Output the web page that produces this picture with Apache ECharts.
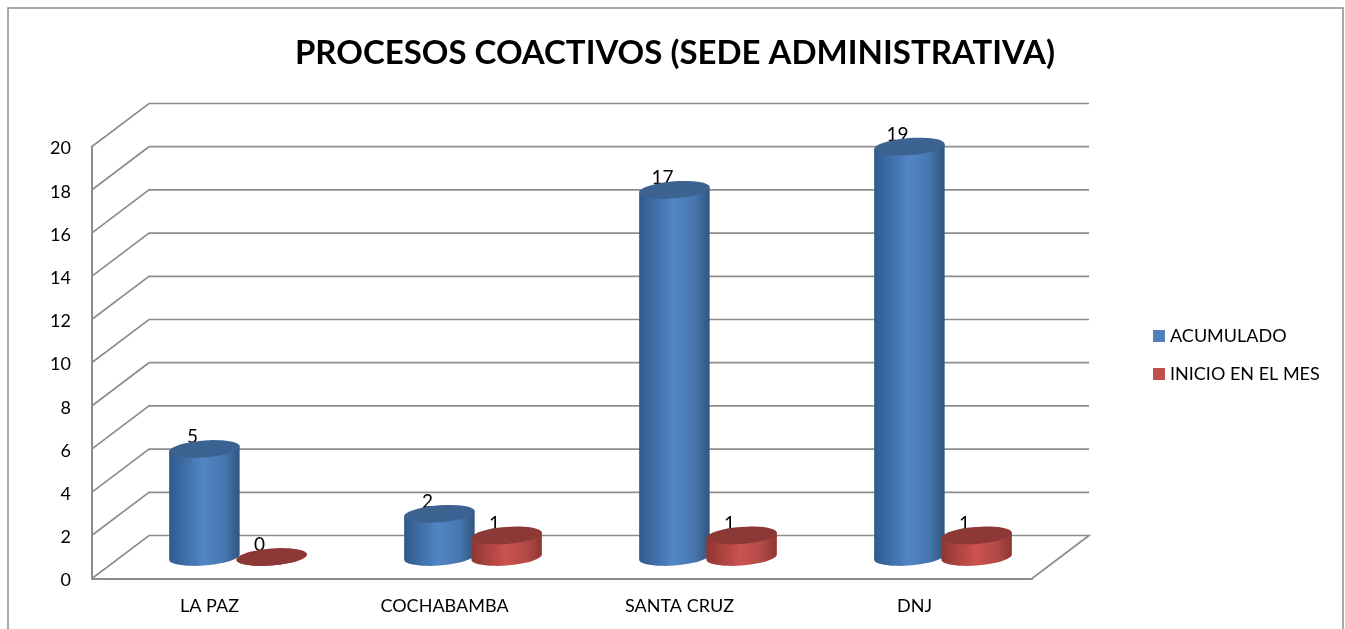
<!DOCTYPE html>
<html>
<head>
<meta charset="utf-8">
<title>Procesos coactivos</title>
<script src="https://cdn.jsdelivr.net/npm/echarts@6/dist/echarts.min.js"></script>
<style>
html, body { margin: 0; padding: 0; background: #fff; }
#main { width: 1345px; height: 629px; }
</style>
</head>
<body>
<div id="main"></div>
<script>
var categorias = ['LA PAZ', 'COCHABAMBA', 'SANTA CRUZ', 'DNJ'];
var acumulado = [5, 2, 17, 19];
var inicioEnElMes = [0, 1, 1, 1];
var marcasEje = [0, 2, 4, 6, 8, 10, 12, 14, 16, 18, 20];

// profundidad de la "caja" 3D en pixeles
var fondoX = 57, fondoY = -43;
var fontFam = 'Lato, "Noto Sans", sans-serif';

var myChart = echarts.init(document.getElementById('main'));

// paredes: cada marca del eje sube en diagonal y sigue por el fondo
function dibujarPared(params, api) {
    var v = api.value(1);
    var p = api.coord([0, v]);
    var sys = params.coordSys;
    var x0 = sys.x, x1 = sys.x + sys.width;
    var puntos = [[x0, p[1]], [x0 + fondoX, p[1] + fondoY], [x1 + fondoX, p[1] + fondoY]];
    if (v === 0) {
        puntos.push([x1, p[1]]);
    }
    return {
        type: 'polyline',
        shape: { points: puntos },
        style: { stroke: '#8e8e8e', lineWidth: 1.7, fill: null }
    };
}

function elipse(cx, cy, rx, ry, giro) {
    var pts = [];
    for (var i = 0; i < 48; i++) {
        var t = i / 48 * Math.PI * 2;
        pts.push([cx + rx * Math.cos(t), cy + ry * Math.sin(t) - giro * Math.cos(t)]);
    }
    return pts;
}

// cilindro: dos elipses y un cuerpo con degradado horizontal
function cilindro(desplaza, colores, tapa) {
    return function (params, api) {
        var base = api.coord([api.value(0), 0]);
        var tope = api.coord([api.value(0), api.value(1)]);
        var ancho = api.size([1, 0])[0];
        var cx = base[0] + fondoX / 2 + desplaza * ancho;
        var yBase = base[1] + fondoY / 2;
        var yTope = tope[1] + fondoY / 2;
        var rx = ancho * 0.15, ry = 8.5, giro = 2.6;

        var cuerpo = [];
        for (var i = 0; i <= 24; i++) {
            var t = i / 24 * Math.PI;
            cuerpo.push([cx + rx * Math.cos(t), yBase + ry * Math.sin(t) - giro * Math.cos(t)]);
        }
        cuerpo.push([cx - rx, yTope + giro]);
        cuerpo.push([cx + rx, yTope - giro]);

        return {
            type: 'group',
            children: [
                {
                    type: 'polygon',
                    shape: { points: cuerpo },
                    style: {
                        fill: new echarts.graphic.LinearGradient(0, 0, 1, 0, [
                            { offset: 0, color: colores[0] },
                            { offset: 0.48, color: colores[1] },
                            { offset: 0.78, color: colores[2] },
                            { offset: 1, color: colores[3] }
                        ])
                    }
                },
                {
                    type: 'text',
                    x: cx - 12,
                    y: yTope - 12,
                    style: {
                        text: String(api.value(1)),
                        fill: '#000',
                        font: '19px ' + fontFam,
                        align: 'center',
                        verticalAlign: 'middle'
                    }
                },
                {
                    type: 'polygon',
                    shape: { points: elipse(cx, yTope, rx, ry, giro) },
                    style: { fill: tapa }
                }
            ]
        };
    };
}

function pares(valores) {
    return valores.map(function (v, i) { return [i, v]; });
}

var option = {
    animation: false,
    backgroundColor: '#fff',
    title: {
        text: 'PROCESOS COACTIVOS (SEDE ADMINISTRATIVA)',
        left: 670,
        top: 32,
        textAlign: 'center',
        textStyle: { fontFamily: fontFam, fontSize: 33, fontWeight: 'bold', color: '#000' }
    },
    legend: {
        orient: 'vertical',
        left: 1153,
        top: 327,
        itemWidth: 12,
        itemHeight: 12,
        itemGap: 20,
        padding: 0,
        icon: 'rect',
        data: ['ACUMULADO', 'INICIO EN EL MES'],
        textStyle: { fontFamily: fontFam, fontSize: 18, color: '#000' }
    },
    graphic: [{
        type: 'polyline',
        shape: { points: [[8, 640], [8, 8], [1343, 8], [1343, 640]] },
        style: { stroke: '#8c8c8c', lineWidth: 1.5, fill: null },
        silent: true
    }],
    grid: { left: 92, top: 146.5, width: 940, height: 432 },
    xAxis: {
        type: 'category',
        data: categorias,
        axisLine: { show: true, lineStyle: { color: '#8c8c8c', width: 2 } },
        axisTick: { show: false },
        axisLabel: { margin: 19, color: '#000', fontFamily: fontFam, fontSize: 18 }
    },
    yAxis: {
        type: 'value',
        min: 0,
        max: 20,
        interval: 2,
        axisLine: { show: true, lineStyle: { color: '#8c8c8c', width: 2 } },
        axisTick: { show: false },
        splitLine: { show: false },
        axisLabel: {
            margin: 21,
            formatter: '{v|{value}}',
            rich: { v: { padding: [4, 0, 0, 0], color: '#000', fontFamily: fontFam, fontSize: 18 } }
        }
    },
    series: [
        {
            name: 'paredes',
            type: 'custom',
            z: 1,
            silent: true,
            clip: false,
            encode: { x: 0, y: 1 },
            data: marcasEje.map(function (m) { return [0, m]; }),
            renderItem: dibujarPared
        },
        {
            name: 'ACUMULADO',
            type: 'custom',
            z: 2,
            clip: false,
            itemStyle: { color: '#4f81bd' },
            encode: { x: 0, y: 1 },
            data: pares(acumulado),
            renderItem: cilindro(-0.143, ['#2f5a8c', '#5185c6', '#4877af', '#2f5580'], '#3c6291')
        },
        {
            name: 'INICIO EN EL MES',
            type: 'custom',
            z: 3,
            clip: false,
            itemStyle: { color: '#c0504d' },
            encode: { x: 0, y: 1 },
            data: pares(inicioEnElMes),
            renderItem: cilindro(0.143, ['#8f3633', '#cb524f', '#b34a47', '#8f3633'], '#8c3836')
        }
    ]
};

myChart.setOption(option);
</script>
</body>
</html>
